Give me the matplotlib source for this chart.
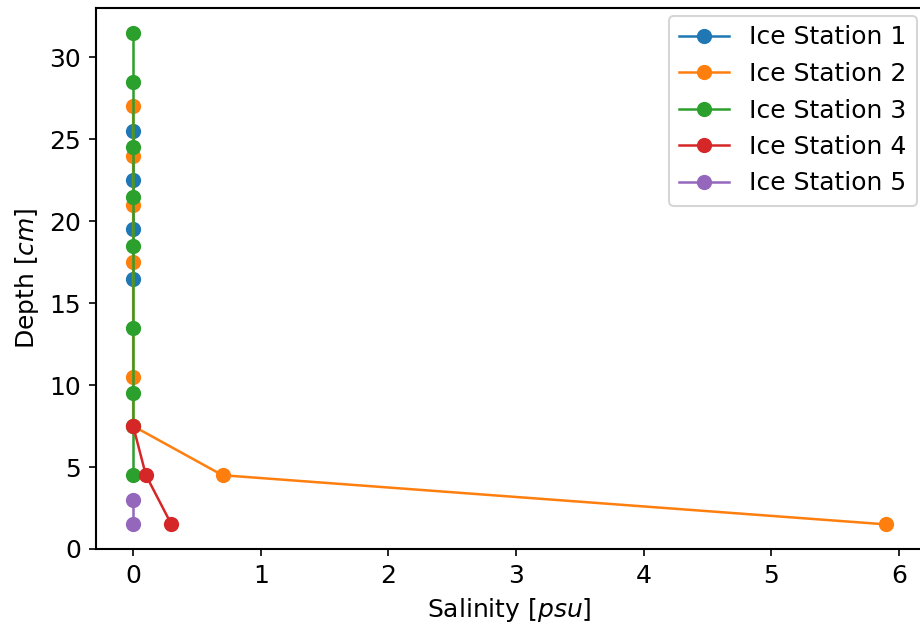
import matplotlib
matplotlib.use("Agg")
import matplotlib.pyplot as plt

plt.rcParams["font.size"] = 12
plt.rcParams["axes.linewidth"] = 1.0

# salinity [psu] and depth [cm] per ice station
sal_1 = [0, 0, 0, 0]
depth_1 = [25.5, 22.5, 19.5, 16.5]

sal_2 = [0, 0, 0, 0, 0, 0, 0.7, 5.9]
depth_2 = [27, 24, 21, 17.5, 10.5, 7.5, 4.5, 1.5]

sal_3 = [0, 0, 0, 0, 0, 0, 0, 0, 0]
depth_3 = [31.5, 28.5, 24.5, 21.5, 18.5, 13.5, 9.5, 7.5, 4.5]

sal_4 = [0, 0.1, 0.3]
depth_4 = [7.5, 4.5, 1.5]

sal_5 = [0, 0]
depth_5 = [3, 1.5]

stations = [
    ("Ice Station 1", sal_1, depth_1),
    ("Ice Station 2", sal_2, depth_2),
    ("Ice Station 3", sal_3, depth_3),
    ("Ice Station 4", sal_4, depth_4),
    ("Ice Station 5", sal_5, depth_5),
]

fig = plt.figure(figsize=(920 / 150, 633 / 150), dpi=150)
ax = fig.add_axes([95.5 / 920, 1 - 549 / 633, (924 - 95.5) / 920, (549 - 8) / 633])

for name, s, d in stations:
    ax.plot(s, d, "-o", label=name, lw=1.2, ms=6.3)

ax.set_xlabel("Salinity [$psu$]")
ax.set_ylabel("Depth [$cm$]")
ax.legend(loc="upper right", borderaxespad=0.3)

fig.savefig("out.png", dpi=150)
